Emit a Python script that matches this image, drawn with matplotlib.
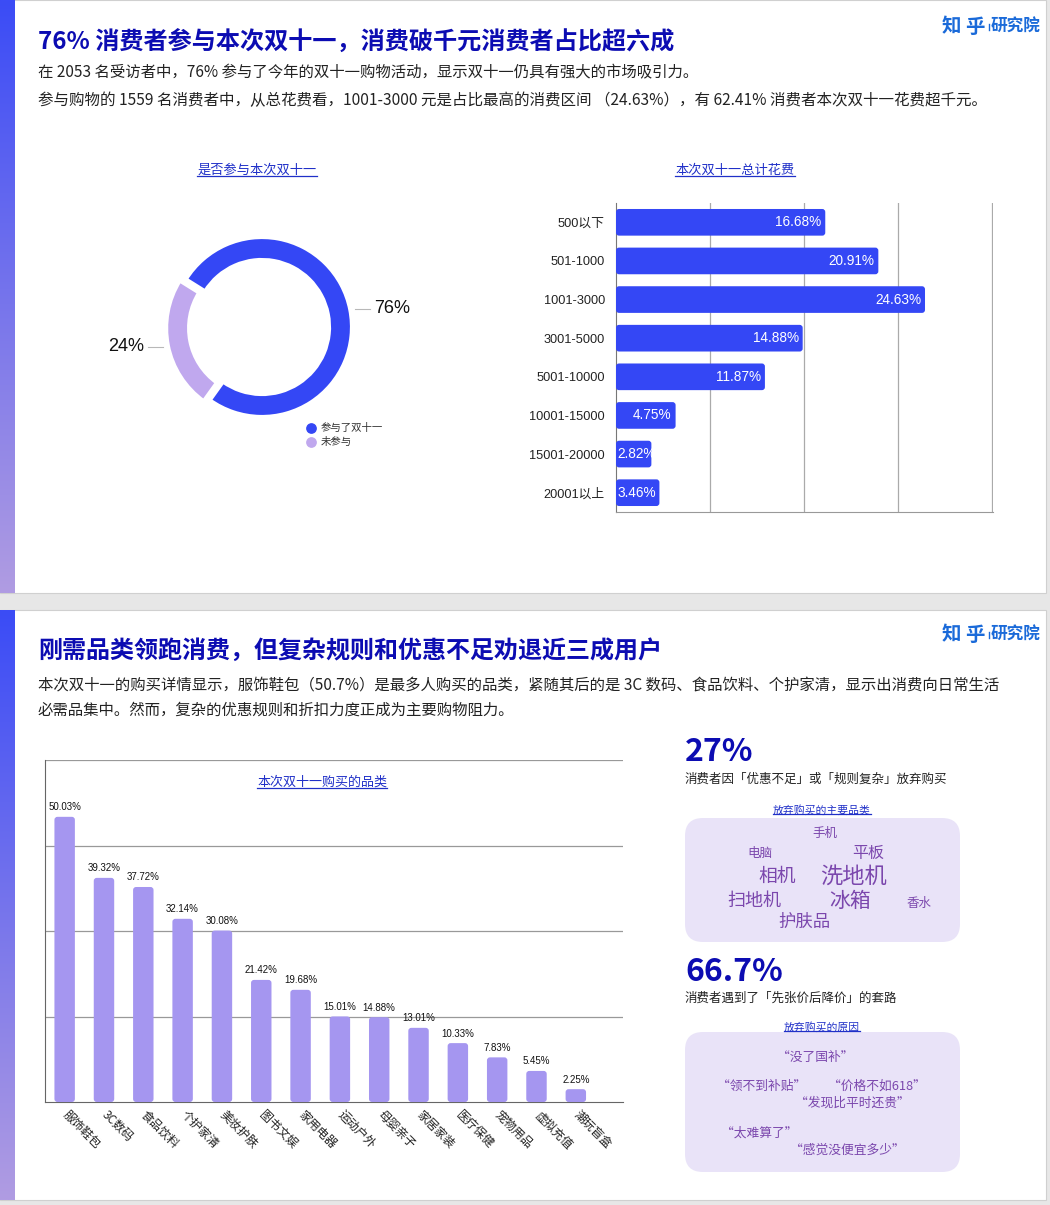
import numpy as np
import matplotlib
matplotlib.use('Agg')
import matplotlib.pyplot as plt
from matplotlib.patches import Rectangle, FancyBboxPatch
from matplotlib.colors import to_rgb

plt.rcParams['font.family'] = ['Noto Sans CJK SC', 'DejaVu Sans']

# ---- data ----
join_labels = ['参与了双十一', '未参与']
join_values = [76, 24]

spend_bins = ['500以下', '501-1000', '1001-3000', '3001-5000', '5001-10000',
              '10001-15000', '15001-20000', '20001以上']
spend_pct = [16.68, 20.91, 24.63, 14.88, 11.87, 4.75, 2.82, 3.46]

cats = ['服饰鞋包', '3C数码', '食品饮料', '个护家清', '美妆护肤', '图书文娱', '家用电器',
        '运动户外', '母婴亲子', '家居家装', '医疗保健', '宠物用品', '虚拟充值', '潮玩盲盒']
cat_pct = [50.03, 39.32, 37.72, 32.14, 30.08, 21.42, 19.68, 15.01, 14.88, 13.01,
           10.33, 7.83, 5.45, 2.25]

# word cloud: word, font size
cloud_words = ['手机', '电脑', '平板', '相机', '洗地机', '扫地机', '冰箱', '香水', '护肤品']
cloud_sizes = [9, 9, 11.5, 13.5, 16, 13, 15, 9, 12.5]
cloud_pos = [(825, 833), (760, 853), (868, 853), (777, 876), (853, 876),
             (754, 901), (850, 901), (919, 903), (804, 922)]

quotes = ['“没了国补”', '“领不到补贴”', '“价格不如618”', '“发现比平时还贵”',
          '“太难算了”', '“感觉没便宜多少”']
quote_pos = [(815, 1057), (762, 1086), (877, 1086), (852, 1103), (759, 1133), (847, 1150)]

W, H = 1050, 1205
DARK = '#0c0cb2'
LINK = '#2030c8'
PURPLE = '#7b47ad'
BLUE = '#3447f5'
LAV = '#a596f0'
LATIN = ['Liberation Sans', 'Noto Sans CJK SC']

fig = plt.figure(figsize=(W / 100, H / 100), dpi=100)
fig.patch.set_facecolor('#e7e7e7')

bg = fig.add_axes([0, 0, 1, 1])
bg.set_xlim(0, W)
bg.set_ylim(H, 0)
bg.axis('off')


def px_axes(x0, y0, x1, y1):
    a = fig.add_axes([x0 / W, 1 - y1 / H, (x1 - x0) / W, (y1 - y0) / H])
    a.set_facecolor('none')
    return a


def round_bars(ax, bars, r_px):
    # swap plain rectangles for rounded ones of the same size
    fig.canvas.draw()
    p0 = ax.transData.transform((0, 0))
    p1 = ax.transData.transform((1, 1))
    sx, sy = abs(p1[0] - p0[0]), abs(p1[1] - p0[1])
    for b in bars:
        b.set_visible(False)
        fb = FancyBboxPatch((b.get_x(), b.get_y()), b.get_width(), b.get_height(),
                            boxstyle=f'round,pad=0,rounding_size={r_px / sx}',
                            mutation_aspect=sx / sy, facecolor=b.get_facecolor(),
                            edgecolor='none', zorder=3)
        ax.add_patch(fb)


# slides
for top, bot in [(0, 593), (610, 1200)]:
    bg.add_patch(Rectangle((0, top), 1046, bot - top, facecolor='white',
                           edgecolor='#d0d0d0', lw=0.8, zorder=0))
    c1, c2 = np.array(to_rgb('#3b4cf6')), np.array(to_rgb('#b09ce2'))
    t = np.linspace(0, 1, 200)[:, None]
    grad = (c1 * (1 - t) + c2 * t)[:, None, :]
    bg.imshow(grad, extent=[0, 15, bot, top], aspect='auto', zorder=1)
bg.set_xlim(0, W)
bg.set_ylim(H, 0)

underlined = []


def logo(y):
    kw = dict(color='#1a6ad9', va='center', fontweight='bold')
    bg.text(951, y, '知', ha='center', fontsize=14, **kw)
    bg.text(975, y, '乎', ha='center', fontsize=14, **kw)
    bg.plot([988.5, 988.5], [y - 3, y + 3], color='#1a6ad9', lw=1)
    bg.text(1040, y, '研究院', ha='right', fontsize=12, **kw)


# ---- slide 1 text ----
bg.text(38, 43, '76% 消费者参与本次双十一，消费破千元消费者占比超六成', fontsize=17.4,
        fontweight='bold', color=DARK, va='center')
bg.text(38, 73, '在 2053 名受访者中，76% 参与了今年的双十一购物活动，显示双十一仍具有强大的市场吸引力。',
        fontsize=11.1, color='#222222', va='center')
bg.text(38, 101, '参与购物的 1559 名消费者中，从总花费看，1001-3000 元是占比最高的消费区间 （24.63%），有 62.41% 消费者本次双十一花费超千元。',
        fontsize=11.2, color='#222222', va='center')
logo(27)

underlined.append(bg.text(257, 170, '是否参与本次双十一', fontsize=9.5, color=LINK, ha='center', va='center'))
underlined.append(bg.text(735, 170, '本次双十一总计花费', fontsize=9.5, color=LINK, ha='center', va='center'))

# donut
cx, cy = 262, 327
explode = [0, 6]
ax1 = px_axes(cx - 120, cy - 120, cx + 120, cy + 120)
wedges, _ = ax1.pie(join_values, colors=[BLUE, '#c0a8ee'], radius=90, startangle=-125.6,
                    counterclock=True, explode=explode,
                    wedgeprops=dict(width=23, edgecolor='white', linewidth=3))
ax1.set_xlim(-120, 120)
ax1.set_ylim(-120, 120)
ax1.set_aspect('equal')
ax1.axis('off')

for w, v, ex in zip(wedges, join_values, explode):
    mid = np.deg2rad((w.theta1 + w.theta2) / 2)
    rr = 95 + ex
    px = cx + rr * np.cos(mid)
    py = cy - rr * np.sin(mid)
    side = 1 if np.cos(mid) > 0 else -1
    bg.plot([px, px + side * 15], [py, py], color='#b8b8b8', lw=0.8)
    bg.text(px + side * 19, py, f'{v}%', fontsize=13, ha='left' if side > 0 else 'right',
            va='center', color='#111111', family=LATIN)

for i, (lab, col) in enumerate(zip(join_labels, [BLUE, '#c0a8ee'])):
    bg.scatter([311], [428 + 14 * i], s=45, color=col, zorder=3)
    bg.text(321, 428 + 14 * i, lab, fontsize=7.5, va='center', color='#333333')

# horizontal bars
ax2 = px_axes(616, 203, 993, 512)
y = np.arange(len(spend_bins))
hb = ax2.barh(y, spend_pct, height=0.69, color=BLUE, zorder=3)
ax2.set_ylim(len(spend_bins) - 0.5, -0.5)
ax2.set_xlim(0, 30.05)
ax2.set_xticks([7.5, 15, 22.5, 30])
ax2.set_xticklabels([])
ax2.tick_params(axis='x', length=0)
ax2.tick_params(axis='y', length=0, pad=8)
ax2.set_yticks(y)
ax2.set_yticklabels(spend_bins, fontsize=9.2, color='#222222', family=LATIN)
ax2.grid(axis='x', color='#aaaaaa', lw=0.9, zorder=0)
for s in ['top', 'right']:
    ax2.spines[s].set_visible(False)
ax2.spines['left'].set_color('#777777')
ax2.spines['bottom'].set_color('#999999')
for yi, v in zip(y, spend_pct):
    if v < 4:
        ax2.text(0.1, yi, f'{v:.2f}%', color='white', fontsize=9.8, ha='left', va='center',
                 zorder=4, family=LATIN)
    else:
        ax2.text(v - 0.3, yi, f'{v:.2f}%', color='white', fontsize=9.8, ha='right', va='center',
                 zorder=4, family=LATIN)

# ---- slide 2 text ----
bg.text(38, 651, '刚需品类领跑消费，但复杂规则和优惠不足劝退近三成用户', fontsize=17.3,
        fontweight='bold', color=DARK, va='center')
bg.text(38, 685, '本次双十一的购买详情显示，服饰鞋包（50.7%）是最多人购买的品类，紧随其后的是 3C 数码、食品饮料、个护家清，显示出消费向日常生活',
        fontsize=11.1, color='#222222', va='center')
bg.text(38, 710, '必需品集中。然而，复杂的优惠规则和折扣力度正成为主要购物阻力。',
        fontsize=11.1, color='#222222', va='center')
logo(635)

# column chart
ax3 = px_axes(45, 760, 623, 1102)
x = np.arange(len(cats))
cb = ax3.bar(x, cat_pct, width=0.52, color=LAV, zorder=3)
ax3.set_ylim(0, 60)
ax3.set_xlim(-0.5, 14.2)
ax3.set_yticks([15, 30, 45, 60])
ax3.set_yticklabels([])
ax3.tick_params(axis='y', length=0)
ax3.grid(axis='y', color='#999999', lw=0.9, zorder=0)
ax3.set_xticks(x)
ax3.set_xticklabels(cats, rotation=-45, ha='left', va='center', rotation_mode='anchor',
                    fontsize=8.6, color='#222222')
ax3.tick_params(axis='x', length=0, pad=8)
for s in ['top', 'right']:
    ax3.spines[s].set_visible(False)
ax3.spines['left'].set_color('#666666')
ax3.spines['bottom'].set_color('#666666')
for xi, v in zip(x, cat_pct):
    ax3.text(xi, v + 0.8, f'{v:.2f}%', fontsize=7, ha='center', va='bottom', color='#111111',
             family=LATIN)
underlined.append(bg.text(322, 782, '本次双十一购买的品类', fontsize=9.4, color=LINK,
                          ha='center', va='center'))

# right side stats
bg.text(685, 752, '27%', fontsize=23, fontweight='bold', color=DARK, va='center')
bg.text(685, 779, '消费者因「优惠不足」或「规则复杂」放弃购买', fontsize=9, color='#222222', va='center')
underlined.append(bg.text(822, 810, '放弃购买的主要品类', fontsize=7.8, color=LINK, ha='center', va='center'))
bg.add_patch(FancyBboxPatch((685, 818), 275, 124, boxstyle='round,pad=0,rounding_size=18',
                            facecolor='#e9e3f8', edgecolor='none', zorder=1))
for wd, sz, (wx, wy) in zip(cloud_words, cloud_sizes, cloud_pos):
    bg.text(wx, wy, wd, fontsize=sz, color=PURPLE, ha='center', va='center', zorder=2)

bg.text(685, 972, '66.7%', fontsize=23, fontweight='bold', color=DARK, va='center')
bg.text(685, 998, '消费者遇到了「先张价后降价」的套路', fontsize=9, color='#222222', va='center')
underlined.append(bg.text(822, 1027, '放弃购买的原因', fontsize=7.8, color=LINK, ha='center', va='center'))
bg.add_patch(FancyBboxPatch((685, 1032), 275, 140, boxstyle='round,pad=0,rounding_size=18',
                            facecolor='#e9e3f8', edgecolor='none', zorder=1))
for q, (qx, qy) in zip(quotes, quote_pos):
    bg.text(qx, qy, q, fontsize=9.2, color=PURPLE, ha='center', va='center', zorder=2)

round_bars(ax2, hb, 3)
round_bars(ax3, cb, 3)

# underline link-style titles
fig.canvas.draw()
r = fig.canvas.get_renderer()
inv = bg.transData.inverted()
for t in underlined:
    bb = t.get_window_extent(r)
    (x0, y0), (x1, y1) = inv.transform([[bb.x0, bb.y0], [bb.x1, bb.y1]])
    bg.plot([x0, x1], [y0 - 1, y0 - 1], color=t.get_color(), lw=0.9)

fig.savefig('out.png', dpi=100, facecolor=fig.get_facecolor())
